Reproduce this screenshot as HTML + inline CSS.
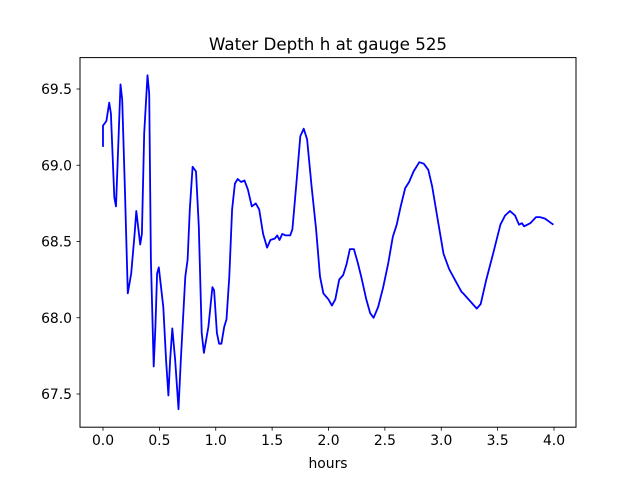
<!DOCTYPE html>
<html><head><meta charset="utf-8"><style>
html,body{margin:0;padding:0;background:#fff;}
svg{display:block;font-family:"DejaVu Sans","Liberation Sans",sans-serif;}
</style></head><body>
<svg id="chart" width="640" height="480" viewBox="0 0 640 480" xmlns="http://www.w3.org/2000/svg">
<rect x="0" y="0" width="640" height="480" fill="#fff"/>
<text x="328" y="50" font-size="16.7" text-anchor="middle" fill="#000">Water Depth h at gauge 525</text>
<g id="plot"></g>
<rect x="80" y="57.6" width="496" height="369.6" fill="none" stroke="#000" stroke-width="1"/>
<text x="328" y="468" font-size="13.9" text-anchor="middle" fill="#000">hours</text>
</svg>
<script>
const times = [0,0,0.03,0.055,0.07,0.10,0.115,0.13,0.155,0.17,0.195,0.22,0.25,0.28,0.295,0.33,0.345,0.365,0.395,0.41,0.425,0.45,0.465,0.48,0.495,0.535,0.56,0.58,0.595,0.615,0.64,0.67,0.69,0.73,0.75,0.77,0.795,0.825,0.85,0.875,0.895,0.935,0.97,0.985,1.01,1.03,1.05,1.075,1.095,1.12,1.145,1.17,1.195,1.225,1.255,1.285,1.32,1.355,1.385,1.42,1.455,1.485,1.525,1.545,1.565,1.59,1.62,1.66,1.68,1.72,1.75,1.78,1.81,1.85,1.89,1.925,1.955,2.0,2.03,2.06,2.095,2.13,2.16,2.19,2.225,2.26,2.29,2.335,2.37,2.40,2.44,2.485,2.53,2.57,2.605,2.64,2.68,2.715,2.755,2.805,2.845,2.885,2.92,2.965,3.02,3.07,3.12,3.18,3.195,3.255,3.315,3.35,3.40,3.46,3.525,3.565,3.61,3.655,3.69,3.715,3.735,3.79,3.84,3.875,3.92,3.995];
const depths = [69.12,69.26,69.29,69.41,69.34,68.79,68.73,69.03,69.53,69.43,68.82,68.16,68.29,68.55,68.70,68.48,68.55,69.21,69.59,69.47,68.38,67.68,67.94,68.29,68.33,68.07,67.72,67.49,67.72,67.93,67.72,67.40,67.72,68.27,68.38,68.71,68.99,68.96,68.60,67.90,67.77,67.94,68.20,68.18,67.90,67.83,67.83,67.94,67.99,68.27,68.71,68.88,68.91,68.89,68.90,68.84,68.73,68.75,68.71,68.55,68.46,68.51,68.52,68.54,68.51,68.55,68.54,68.54,68.58,68.92,69.19,69.24,69.17,68.86,68.58,68.27,68.16,68.12,68.08,68.12,68.25,68.28,68.35,68.45,68.45,68.36,68.27,68.12,68.03,68.00,68.07,68.20,68.36,68.53,68.61,68.73,68.85,68.89,68.96,69.02,69.01,68.97,68.86,68.66,68.42,68.32,68.25,68.17,68.16,68.11,68.06,68.09,68.25,68.42,68.61,68.67,68.70,68.67,68.61,68.62,68.60,68.62,68.66,68.66,68.65,68.61];
const xTicks = [0,0.5,1,1.5,2,2.5,3,3.5,4];
const xTickLabels = ["0.0","0.5","1.0","1.5","2.0","2.5","3.0","3.5","4.0"];
const yTicks = [67.5,68,68.5,69,69.5];
const yTickLabels = ["67.5","68.0","68.5","69.0","69.5"];

const NS = "http://www.w3.org/2000/svg";
const xs = v => 103 + v * 112.75;
const ys = v => 89 + (69.5 - v) * 152.5;
const g = document.getElementById('plot');
function mk(tag, attrs){const e=document.createElementNS(NS,tag);for(const k in attrs)e.setAttribute(k,attrs[k]);return e;}

xTicks.forEach((t,i)=>{
  const x = xs(t);
  const l = mk('line',{x1:x,x2:x,y1:427.2,y2:430.7,stroke:'#000','stroke-width':0.8});
  
  
  g.appendChild(l);
  const tx = mk('text',{x:x,y:445,'font-size':13.9,'text-anchor':'middle',fill:'#000'});
  
  
  tx.textContent = xTickLabels[i];
  g.appendChild(tx);
});
yTicks.forEach((t,i)=>{
  const y = ys(t);
  const l = mk('line',{x1:76.5,x2:80,y1:y,y2:y,stroke:'#000','stroke-width':0.8});
  
  
  g.appendChild(l);
  const tx = mk('text',{x:72,y:y+5,'font-size':13.9,'text-anchor':'end',fill:'#000'});
  
  
  tx.textContent = yTickLabels[i];
  g.appendChild(tx);
});
let d = '';
times.forEach((t,i)=>{ d += (i?'L':'M') + xs(t).toFixed(1) + ',' + ys(depths[i]).toFixed(1); });
const p = mk('path',{d:d,fill:'none',stroke:'#0000ff','stroke-width':1.8,'stroke-linejoin':'round'});


g.appendChild(p);
</script>
</body></html>
